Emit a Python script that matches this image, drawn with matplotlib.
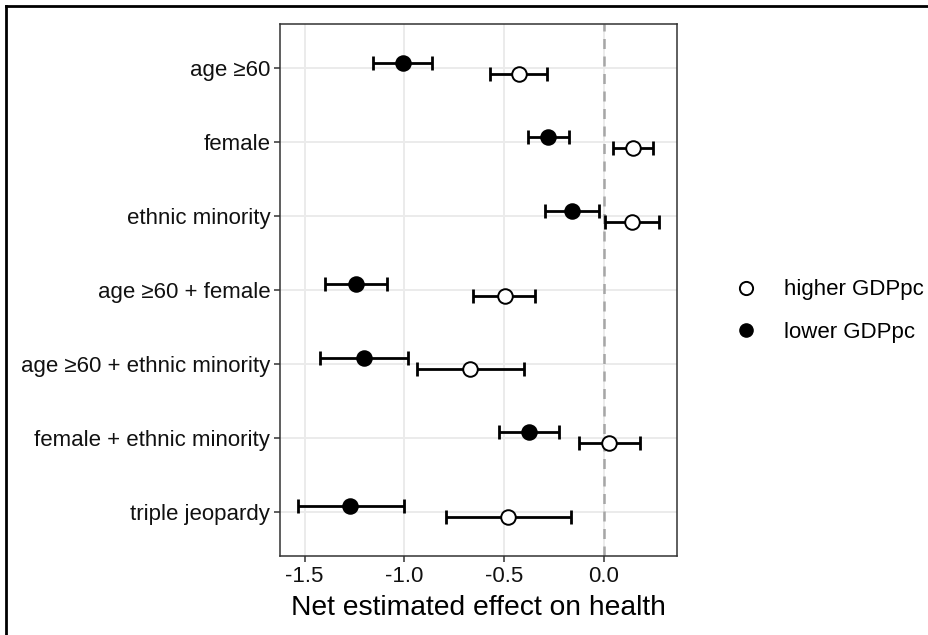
import matplotlib
matplotlib.use("Agg")
import matplotlib.pyplot as plt
from matplotlib.lines import Line2D
import numpy as np

plt.rcParams['font.family'] = ['Liberation Sans', 'DejaVu Sans']

# categories, top to bottom
groups = ['age \u226560', 'female', 'ethnic minority', 'age \u226560 + female',
          'age \u226560 + ethnic minority', 'female + ethnic minority', 'triple jeopardy']

# lower GDPpc (filled)
low_est = [-1.008, -0.278, -0.158, -1.242, -1.203, -0.375, -1.272]
low_lo = [-1.158, -0.380, -0.295, -1.400, -1.425, -0.525, -1.533]
low_hi = [-0.861, -0.175, -0.025, -1.087, -0.983, -0.225, -1.000]

# higher GDPpc (open)
high_est = [-0.425, 0.147, 0.142, -0.497, -0.670, 0.028, -0.480]
high_lo = [-0.571, 0.047, 0.005, -0.653, -0.938, -0.125, -0.792]
high_hi = [-0.283, 0.250, 0.278, -0.342, -0.397, 0.183, -0.162]

x_ticks = [-1.5, -1.0, -0.5, 0.0]

fig = plt.figure(figsize=(9.29, 6.35), dpi=100)
ax = fig.add_axes([280 / 929, 1 - 556 / 635, (677 - 280) / 929, (556 - 24) / 635])

pos = np.arange(len(groups))
dodge = 0.075

def draw(est, lo, hi, y, face):
    est = np.array(est)
    err = [est - np.array(lo), np.array(hi) - est]
    ax.errorbar(est, y, xerr=err, fmt='none', ecolor='black', elinewidth=2.0,
                capsize=5, capthick=2.0, zorder=3)
    ax.plot(est, y, 'o', markersize=10.5, markerfacecolor=face,
            markeredgecolor='black', markeredgewidth=1.4, linestyle='none', zorder=4)

draw(low_est, low_lo, low_hi, pos - dodge, 'black')
draw(high_est, high_lo, high_hi, pos + dodge, 'white')

ax.axvline(0, color='#a6a6a6', linestyle=(0, (4, 3)), linewidth=1.8, zorder=2)

all_vals = low_lo + low_hi + high_lo + high_hi
lo_v, hi_v = min(all_vals), max(all_vals)
pad = 0.05 * (hi_v - lo_v)
ax.set_xlim(lo_v - pad, hi_v + pad)
ax.set_ylim(len(groups) - 0.4, -0.6)

ax.set_xticks(x_ticks)
ax.set_xticklabels(['%.1f' % t for t in x_ticks])
ax.set_yticks(pos)
ax.set_yticklabels(groups)
ax.grid(True, color='#ebebeb', linewidth=1.4, zorder=0)
ax.set_axisbelow(True)

for s in ax.spines.values():
    s.set_color('#333333')
    s.set_linewidth(1.1)
ax.tick_params(axis='both', colors='#333333', length=4, width=1.1,
               labelsize=16, labelcolor='#111111', pad=3)
ax.set_xlabel('Net estimated effect on health', fontsize=20.3, color='black', labelpad=6)

handles = [
    Line2D([], [], marker='o', linestyle='none', markersize=9.5, markerfacecolor='white',
           markeredgecolor='black', markeredgewidth=1.4, label='higher GDPpc'),
    Line2D([], [], marker='o', linestyle='none', markersize=9.5, markerfacecolor='black',
           markeredgecolor='black', label='lower GDPpc'),
]
fig.legend(handles=handles, loc='center left', bbox_to_anchor=(722 / 929, 1 - 311 / 635),
           frameon=False, fontsize=16, handlelength=1.2, handletextpad=1.1,
           labelspacing=0.95, borderpad=0)

# partial frame lines (top and left) seen around the figure
fig.add_artist(Line2D([6 / 929, 1], [1 - 6 / 635, 1 - 6 / 635], color='black',
                      linewidth=2, transform=fig.transFigure))
fig.add_artist(Line2D([6 / 929, 6 / 929], [0, 1 - 6 / 635], color='black',
                      linewidth=2, transform=fig.transFigure))

fig.savefig('out.png', dpi=100)
